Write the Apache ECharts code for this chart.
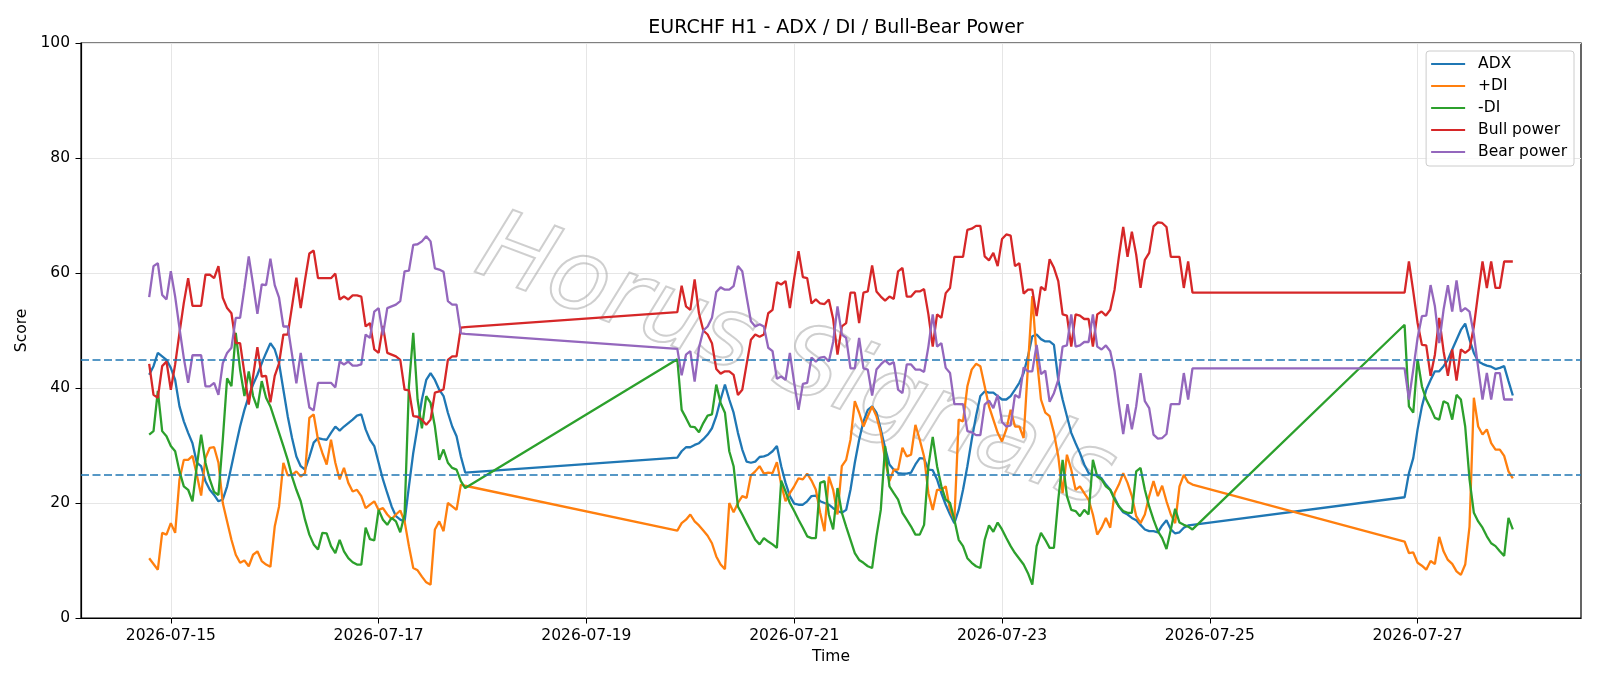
<!DOCTYPE html>
<html>
<head>
<meta charset="utf-8">
<title>EURCHF H1 - ADX / DI / Bull-Bear Power</title>
<script src="https://cdn.jsdelivr.net/npm/echarts@6/dist/echarts.min.js"></script>
<style>
  html, body { margin: 0; padding: 0; background: #fff; }
  #chart { width: 1600px; height: 686px; }
</style>
</head>
<body>
<div id="chart"></div>
<script>
// H1 bars, counted in hours from 2026-07-14 19:00; the two weekends have no bars
var segments = [[0, 73], [122, 241], [290, 315]];
var tickHours = [5, 53, 101, 149, 197, 245, 293];
var tickLabels = ['2026-07-15', '2026-07-17', '2026-07-19', '2026-07-21', '2026-07-23', '2026-07-25', '2026-07-27'];
var levels = [25, 45];

var adx = [
  42.3, 43.8, 46.1, 45.5, 44.9, 43.5, 41.4, 36.8, 34.2, 32.2,
  30.4, 27.0, 26.4, 23.8, 22.3, 21.4, 20.3, 20.6, 22.9, 26.4,
  29.9, 33.3, 36.2, 38.6, 40.6, 42.3, 44.3, 46.1, 47.8, 46.7,
  44.3, 39.7, 35.1, 31.3, 28.1, 26.4, 25.8, 28.0, 30.5, 31.3,
  31.1, 31.0, 32.2, 33.3, 32.6, 33.3, 33.9, 34.5, 35.2, 35.4,
  32.8, 31.0, 29.9, 27.0, 24.1, 21.7, 19.4, 17.7, 17.1, 16.8,
  22.9, 28.7, 33.3, 38.0, 41.4, 42.6, 41.4, 39.7, 38.6, 35.7,
  33.3, 31.6, 28.1, 25.3,
  27.9, 29.0, 29.7, 29.7, 30.1, 30.4, 31.1, 31.9, 33.0, 35.1,
  38.0, 40.6, 38.0, 35.7, 32.2, 29.3, 27.2, 27.0, 27.2, 28.0,
  28.1, 28.4, 29.0, 29.9, 26.4, 23.5, 21.2, 19.9, 19.7, 19.7,
  20.3, 21.2, 21.3, 20.3, 20.0, 19.7, 19.1, 18.6, 18.3, 18.8,
  22.3, 27.0, 31.0, 34.2, 36.2, 36.8, 35.7, 32.8, 29.6, 26.7,
  25.8, 25.2, 25.1, 25.1, 25.3, 26.7, 27.8, 27.7, 25.8, 25.7,
  24.1, 21.7, 19.7, 18.0, 16.5, 18.8, 22.3, 26.4, 31.0, 35.1,
  38.6, 39.4, 39.2, 39.2, 38.6, 38.0, 38.0, 38.6, 39.7, 40.9,
  42.6, 45.5, 49.0, 49.3, 48.5, 48.1, 48.1, 47.5, 41.4, 38.0,
  35.1, 32.2, 30.4, 28.7, 26.7, 25.2, 24.9, 24.8, 24.3, 23.2,
  22.3, 20.9, 19.4, 18.4, 18.0, 17.4, 17.0, 16.2, 15.4, 15.1,
  15.1, 14.9, 16.1, 17.0, 15.4, 14.7, 14.9, 15.7, 16.1, 16.2,
  21.0, 25.2, 27.8, 32.8, 36.8, 39.7, 41.4, 42.9, 42.9, 43.8,
  44.9, 46.7, 48.4, 50.1, 51.2, 48.4, 46.1, 44.6, 44.2, 43.9,
  43.7, 43.3, 43.5, 43.8, 41.2, 38.7
];

var plusDI = [
  10.4, 9.4, 8.4, 14.8, 14.5, 16.5, 14.8, 24.1, 27.5, 27.5,
  28.2, 24.9, 21.3, 27.8, 29.6, 29.7, 27.0, 20.0, 16.8, 13.6,
  11.0, 9.6, 10.0, 9.0, 11.0, 11.6, 9.9, 9.3, 8.9, 15.9,
  19.4, 27.0, 24.8, 24.9, 25.5, 24.6, 25.2, 34.8, 35.4, 31.0,
  28.7, 26.7, 31.0, 27.0, 24.1, 26.1, 23.5, 22.0, 22.3, 21.2,
  19.1, 19.7, 20.3, 18.8, 19.1, 18.0, 17.2, 18.0, 18.7, 16.8,
  12.5, 8.7, 8.3, 7.2, 6.2, 5.8, 15.4, 16.8, 15.1, 20.0,
  19.4, 18.8, 23.2, 23.0,
  15.2, 16.5, 17.1, 18.0, 16.8, 16.1, 15.2, 14.3, 13.0, 10.7,
  9.3, 8.5, 20.0, 18.4, 20.0, 21.2, 20.9, 24.8, 25.5, 26.4,
  25.1, 25.3, 25.2, 27.1, 23.2, 20.3, 21.7, 22.9, 24.3, 24.1,
  25.1, 23.9, 22.3, 18.3, 15.1, 24.6, 22.3, 18.0, 26.4, 27.5,
  31.0, 37.7, 35.7, 33.3, 35.1, 36.8, 35.1, 32.2, 27.5, 23.8,
  25.8, 25.8, 29.6, 28.1, 28.4, 33.6, 31.0, 28.1, 21.7, 18.8,
  22.3, 22.3, 22.9, 18.8, 17.1, 34.5, 34.2, 40.3, 43.2, 44.2,
  43.8, 40.3, 36.8, 34.5, 32.2, 30.7, 32.8, 36.2, 33.3, 33.3,
  31.3, 43.8, 56.0, 45.5, 38.0, 35.7, 35.1, 32.2, 28.1, 21.7,
  28.4, 25.8, 22.3, 22.9, 21.7, 20.6, 18.0, 14.5, 15.7, 17.4,
  15.7, 21.7, 23.2, 25.2, 23.5, 21.2, 17.7, 16.5, 18.0, 21.2,
  23.8, 21.2, 23.0, 20.3, 18.0, 16.5, 22.9, 24.9, 23.6, 23.2,
  13.3, 11.3, 11.4, 9.6, 9.1, 8.4, 9.9, 9.4, 14.1, 11.6,
  10.1, 9.4, 8.1, 7.5, 9.3, 15.9, 38.3, 33.3, 31.9, 32.8,
  30.4, 29.3, 29.3, 28.2, 25.5, 24.3
];

var minusDI = [
  31.9, 32.5, 39.5, 32.5, 31.6, 29.9, 29.0, 25.5, 22.9, 22.3,
  20.3, 26.4, 31.9, 27.0, 24.1, 21.9, 21.4, 31.0, 41.7, 40.3,
  49.6, 43.2, 38.6, 42.9, 38.6, 36.5, 41.2, 38.3, 36.8, 34.5,
  32.2, 29.9, 27.5, 24.6, 22.3, 20.3, 17.1, 14.5, 12.8, 11.9,
  14.8, 14.7, 12.5, 11.3, 13.6, 11.6, 10.4, 9.7, 9.3, 9.3,
  15.7, 13.7, 13.5, 18.8, 17.1, 16.2, 17.4, 16.8, 14.9, 18.0,
  40.3, 49.6, 38.0, 33.0, 38.6, 37.4, 33.3, 27.5, 29.3, 27.0,
  26.1, 25.8, 23.8, 22.6,
  45.0, 36.2, 34.8, 33.3, 33.2, 32.3, 33.9, 35.2, 35.4, 40.6,
  37.4, 35.7, 29.0, 26.4, 19.4, 18.0, 16.5, 15.1, 13.6, 12.8,
  13.9, 13.3, 12.8, 12.2, 23.9, 22.0, 20.0, 18.6, 17.1, 15.7,
  14.2, 13.9, 13.9, 23.5, 23.8, 18.0, 15.4, 22.6, 18.3, 15.9,
  13.6, 11.3, 10.1, 9.6, 9.0, 8.7, 14.2, 18.8, 29.9, 22.9,
  21.7, 20.6, 18.3, 17.1, 15.9, 14.5, 14.5, 16.2, 26.4, 31.5,
  26.4, 22.9, 20.6, 20.0, 17.1, 13.6, 12.5, 10.4, 9.6, 9.0,
  8.7, 13.6, 16.1, 15.0, 16.6, 15.4, 13.9, 12.5, 11.3, 10.3,
  9.3, 7.8, 5.8, 12.5, 14.8, 13.6, 12.2, 12.2, 20.6, 27.5,
  21.2, 18.8, 18.6, 17.7, 18.8, 18.0, 27.5, 24.6, 24.1, 22.9,
  22.3, 20.6, 19.4, 18.6, 18.3, 18.3, 25.5, 26.1, 22.3, 19.4,
  17.1, 15.1, 13.9, 12.0, 15.4, 19.0, 16.6, 16.2, 15.9, 15.4,
  51.0, 36.8, 35.7, 45.0, 40.3, 38.0, 36.5, 34.8, 34.5, 37.7,
  37.3, 34.5, 38.8, 38.0, 33.3, 24.1, 18.3, 16.8, 15.7, 14.2,
  13.0, 12.5, 11.6, 10.8, 17.4, 15.4
];

var bullPower = [
  44.2, 38.8, 38.3, 43.8, 44.6, 39.7, 44.1, 49.6, 54.8, 59.1,
  54.3, 54.3, 54.3, 59.7, 59.7, 59.1, 61.2, 55.7, 53.9, 53.0,
  47.8, 47.8, 42.6, 37.1, 42.0, 47.1, 42.0, 42.1, 37.5, 42.1,
  44.3, 49.3, 49.3, 54.2, 59.2, 53.9, 58.8, 63.4, 63.9, 59.1,
  59.1, 59.1, 59.1, 59.9, 55.4, 55.9, 55.4, 56.1, 56.1, 55.9,
  50.7, 51.3, 46.7, 46.1, 50.8, 46.1, 45.8, 45.5, 44.9, 39.7,
  39.6, 35.1, 35.0, 34.5, 33.6, 34.5, 39.2, 39.4, 39.8, 44.9,
  45.5, 45.5, 50.5, 50.6,
  53.2, 57.8, 54.2, 53.6, 58.9, 53.0, 50.0, 49.3, 47.8, 43.3,
  42.5, 42.9, 42.9, 42.3, 38.8, 39.7, 44.1, 48.4, 49.3, 48.9,
  49.3, 53.0, 53.6, 58.4, 58.0, 58.6, 53.9, 59.1, 63.8, 59.3,
  59.1, 54.7, 55.4, 54.7, 54.6, 55.4, 52.0, 45.8, 50.7, 51.3,
  56.6, 56.6, 51.3, 56.6, 56.8, 61.3, 56.8, 55.9, 55.2, 55.9,
  55.5, 60.3, 60.9, 55.9, 55.9, 56.8, 56.8, 57.2, 52.8, 47.2,
  52.8, 52.2, 56.5, 57.4, 62.8, 62.8, 62.8, 67.5, 67.7, 68.2,
  68.2, 62.9, 62.2, 63.5, 61.2, 65.9, 66.7, 66.5, 61.2, 61.7,
  56.4, 57.1, 57.1, 52.5, 57.6, 57.0, 62.4, 60.9, 58.6, 52.8,
  52.6, 47.2, 52.8, 52.6, 52.0, 52.0, 47.2, 52.8, 53.3, 52.6,
  53.6, 57.1, 62.8, 68.0, 62.8, 67.2, 63.2, 57.4, 62.3, 63.5,
  68.1, 68.8, 68.7, 68.0, 62.8, 62.8, 62.8, 57.4, 62.0, 56.6,
  56.6, 62.0, 56.8, 51.3, 47.5, 47.4, 42.1, 45.8, 52.2, 46.4,
  42.1, 46.7, 41.3, 46.7, 46.1, 46.7, 50.7, 56.5, 62.0, 57.4,
  62.0, 57.4, 57.4, 62.0, 62.0, 62.0
];

var bearPower = [
  55.8, 61.2, 61.7, 56.2, 55.4, 60.3, 55.9, 50.4, 45.2, 40.9,
  45.7, 45.7, 45.7, 40.3, 40.3, 40.9, 38.8, 44.3, 46.1, 47.0,
  52.2, 52.2, 57.4, 62.9, 58.0, 52.9, 58.0, 57.9, 62.5, 57.9,
  55.7, 50.7, 50.7, 45.8, 40.8, 46.1, 41.2, 36.6, 36.1, 40.9,
  40.9, 40.9, 40.9, 40.1, 44.6, 44.1, 44.6, 43.9, 43.9, 44.1,
  49.3, 48.7, 53.3, 53.9, 49.2, 53.9, 54.2, 54.5, 55.1, 60.3,
  60.4, 64.9, 65.0, 65.5, 66.4, 65.5, 60.8, 60.6, 60.2, 55.1,
  54.5, 54.5, 49.5, 49.4,
  46.8, 42.2, 45.8, 46.4, 41.1, 47.0, 50.0, 50.7, 52.2, 56.7,
  57.5, 57.1, 57.1, 57.7, 61.2, 60.3, 55.9, 51.6, 50.7, 51.1,
  50.7, 47.0, 46.4, 41.6, 42.0, 41.4, 46.1, 40.9, 36.2, 40.7,
  40.9, 45.3, 44.6, 45.3, 45.4, 44.6, 48.0, 54.2, 49.3, 48.7,
  43.4, 43.4, 48.7, 43.4, 43.2, 38.7, 43.2, 44.1, 44.8, 44.1,
  44.5, 39.7, 39.1, 44.1, 44.1, 43.2, 43.2, 42.8, 47.2, 52.8,
  47.2, 47.8, 43.5, 42.6, 37.2, 37.2, 37.2, 32.5, 32.3, 31.8,
  31.8, 37.1, 37.8, 36.5, 38.8, 34.1, 33.3, 33.5, 38.8, 38.3,
  43.6, 42.9, 42.9, 47.5, 42.4, 43.0, 37.6, 39.1, 41.4, 47.2,
  47.4, 52.8, 47.2, 47.4, 48.0, 48.0, 52.8, 47.2, 46.7, 47.4,
  46.4, 42.9, 37.2, 32.0, 37.2, 32.8, 36.8, 42.6, 37.7, 36.5,
  31.9, 31.2, 31.3, 32.0, 37.2, 37.2, 37.2, 42.6, 38.0, 43.4,
  43.4, 38.0, 43.2, 48.7, 52.5, 52.6, 57.9, 54.2, 47.8, 53.6,
  57.9, 53.3, 58.7, 53.3, 53.9, 53.3, 49.3, 43.5, 38.0, 42.6,
  38.0, 42.6, 42.6, 38.0, 38.0, 38.0
];

var colors = ['#1f77b4', '#ff7f0e', '#2ca02c', '#d62728', '#9467bd'];
var FONT = 'DejaVu Sans';

// hour offsets of every bar that exists
var hours = [];
segments.forEach(function (s) {
  for (var h = s[0]; h <= s[1]; h++) hours.push(h);
});
var span = hours[hours.length - 1] - hours[0];

function pairs(values) {
  return values.map(function (v, i) { return [hours[i], v]; });
}

function lineSeries(name, values, color) {
  return {
    name: name,
    type: 'line',
    data: pairs(values),
    showSymbol: false,
    symbol: 'none',
    lineStyle: { color: color, width: 2.3 },
    itemStyle: { color: color },
    animation: false
  };
}

var series = [
  lineSeries('ADX', adx, colors[0]),
  lineSeries('+DI', plusDI, colors[1]),
  lineSeries('-DI', minusDI, colors[2]),
  lineSeries('Bull power', bullPower, colors[3]),
  lineSeries('Bear power', bearPower, colors[4])
];
series[4].markLine = {
  silent: true,
  symbol: ['none', 'none'],
  label: { show: false },
  lineStyle: { color: colors[0], width: 1.5, type: [8, 3.5] },
  data: levels.map(function (y) { return { yAxis: y }; }),
  animation: false
};

var myChart = echarts.init(document.getElementById('chart'), null, { renderer: 'canvas' });
var option = {
  backgroundColor: '#ffffff',
  animation: false,
  textStyle: { fontFamily: FONT },
  title: {
    text: 'EURCHF H1 - ADX / DI / Bull-Bear Power',
    left: 831,
    textAlign: 'center',
    top: 14,
    textStyle: { fontFamily: FONT, fontSize: 19, fontWeight: 'normal', color: '#000' }
  },
  grid: {
    left: 81, right: 19, top: 43, bottom: 68,
    show: true, borderColor: '#000', borderWidth: 1.2, backgroundColor: 'transparent'
  },
  legend: {
    right: 26, top: 51,
    orient: 'vertical',
    align: 'left',
    icon: 'rect',
    itemWidth: 34, itemHeight: 2, itemGap: 4,
    padding: [4, 7, 5, 5],
    backgroundColor: 'rgba(255,255,255,0.8)',
    borderColor: '#cccccc', borderWidth: 1, borderRadius: 3,
    textStyle: { fontFamily: FONT, fontSize: 15.5, color: '#000', lineHeight: 18, padding: [0, 0, 0, 8] },
    data: ['ADX', '+DI', '-DI', 'Bull power', 'Bear power']
  },
  xAxis: {
    type: 'value',
    min: hours[0] - 0.05 * span,
    max: hours[hours.length - 1] + 0.05 * span,
    name: 'Time',
    nameLocation: 'middle',
    nameGap: 30,
    nameTextStyle: { fontFamily: FONT, fontSize: 15.5, color: '#000' },
    axisLine: { onZero: false, lineStyle: { color: '#000', width: 1.2 } },
    axisTick: { show: true, length: 5.5, lineStyle: { color: '#000' }, customValues: tickHours },
    axisLabel: {
      customValues: tickHours,
      fontFamily: FONT, fontSize: 15.5, color: '#000', margin: 10,
      formatter: function (v) {
        var i = tickHours.indexOf(Math.round(v));
        return i >= 0 ? tickLabels[i] : '';
      }
    },
    splitLine: { show: true, lineStyle: { color: '#e6e6e6', width: 1 } }
  },
  yAxis: {
    type: 'value',
    min: 0, max: 100, interval: 20,
    name: 'Score',
    nameLocation: 'middle',
    nameGap: 43,
    nameTextStyle: { fontFamily: FONT, fontSize: 15.5, color: '#000' },
    axisLine: { show: true, onZero: false, lineStyle: { color: '#000', width: 1.2 } },
    axisTick: { show: true, length: 5.5, lineStyle: { color: '#000' } },
    axisLabel: { fontFamily: FONT, fontSize: 15.5, color: '#000', margin: 11 },
    splitLine: { show: true, lineStyle: { color: '#e6e6e6', width: 1 } }
  },
  graphic: [{
    type: 'text',
    x: 795, y: 365,
    rotation: -0.36,
    z: 1,
    silent: true,
    style: {
      text: 'Horus Signals',
      fontFamily: FONT, fontSize: 98, fontStyle: 'italic',
      align: 'center', verticalAlign: 'middle',
      fill: 'rgba(255,255,255,0)',
      stroke: 'rgba(160,160,160,0.5)', lineWidth: 2,
      shadowColor: 'rgba(0,0,0,0.15)', shadowBlur: 2, shadowOffsetX: 4, shadowOffsetY: 4
    }
  }],
  series: series
};
myChart.setOption(option);
window.onresize = function () { myChart.resize(); };
</script>
</body>
</html>
